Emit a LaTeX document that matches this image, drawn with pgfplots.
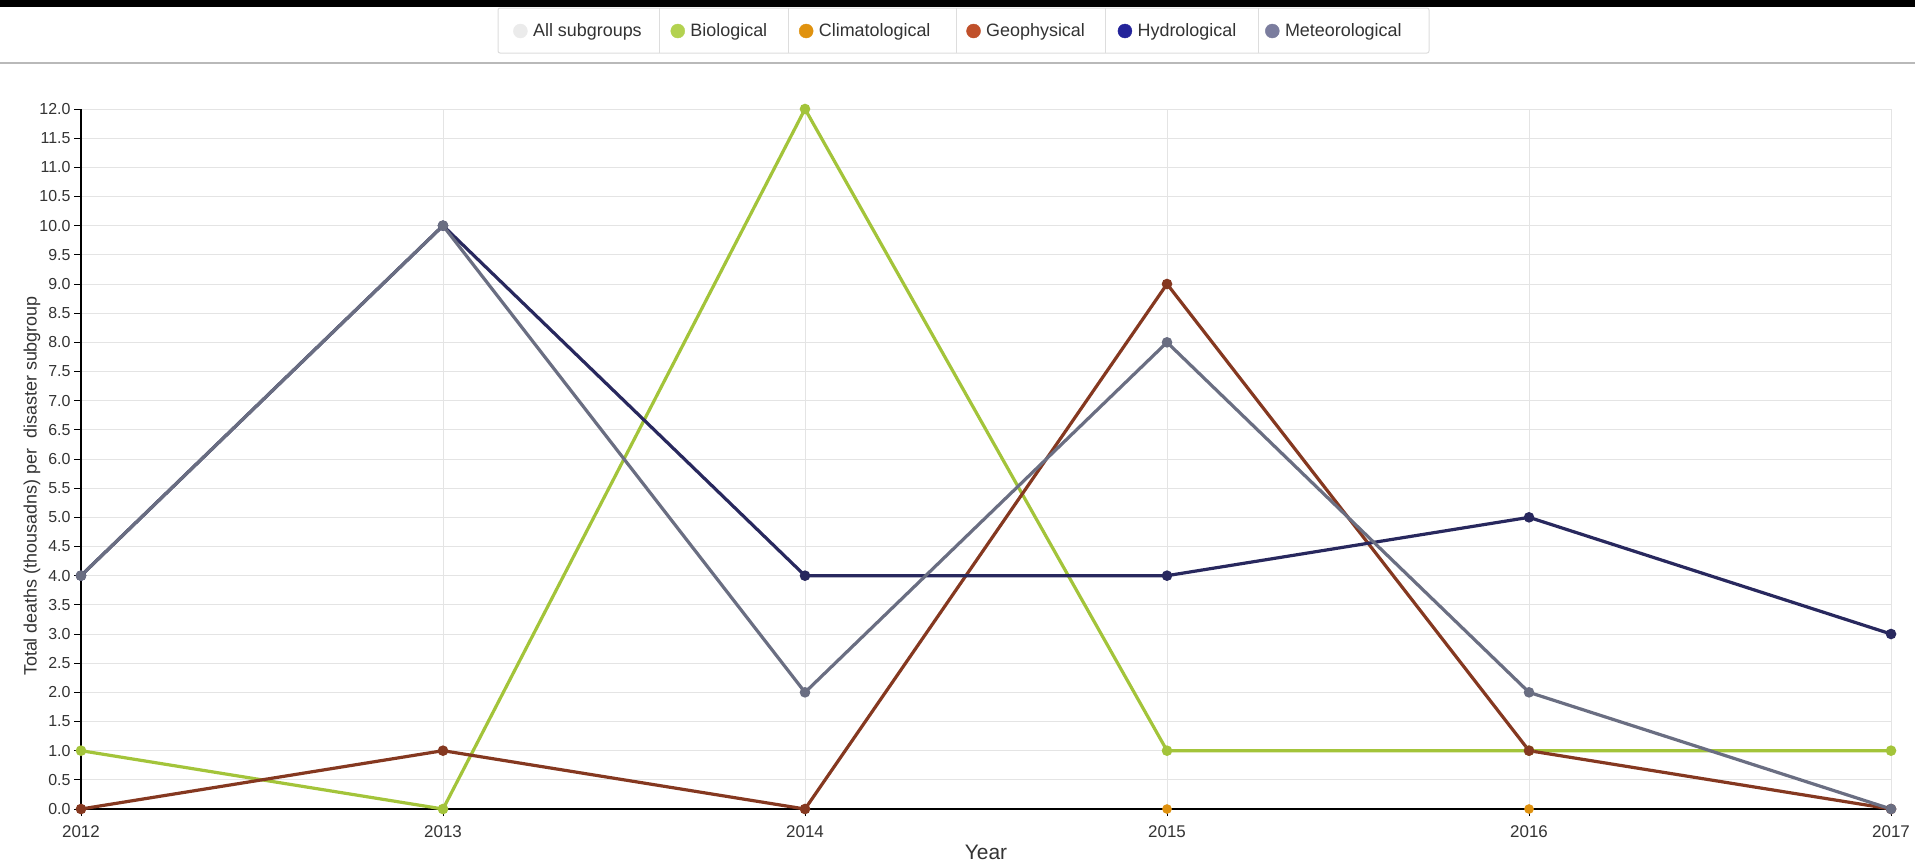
\documentclass[border=0pt]{standalone}
\usepackage{pgfplots}
\pgfplotsset{compat=1.18}
\usepackage{fontspec}
\setmainfont{Liberation Sans}
\definecolor{bio}{HTML}{A3C43A}
\definecolor{cli}{HTML}{E0920F}
\definecolor{geo}{HTML}{853820}
\definecolor{hyd}{HTML}{28285E}
\definecolor{met}{HTML}{6A6E82}
\definecolor{bioL}{HTML}{B3D250}
\definecolor{cliL}{HTML}{E0920F}
\definecolor{geoL}{HTML}{C0502A}
\definecolor{hydL}{HTML}{23239A}
\definecolor{metL}{HTML}{7B7D9E}
\definecolor{allL}{HTML}{EBEBEB}
\definecolor{txt}{HTML}{333333}
\definecolor{gridc}{HTML}{E4E4E4}
\definecolor{sepc}{HTML}{DDDDDD}
\newcommand{\ent}[2]{\makebox[#1][l]{\vphantom{Mgl()}#2}}
\begin{document}
\begin{tikzpicture}
\path[use as bounding box] (0bp,0bp) rectangle (1915bp,-865bp);
\fill[white] (0bp,0bp) rectangle (1915bp,-865bp);
\fill[black] (0bp,0bp) rectangle (1915bp,-7bp);
\draw[gray!55, line width=1.5bp] (0bp,-63bp) -- (1915bp,-63bp);
\draw[sepc, fill=white, line width=1bp, rounded corners=2bp] (498bp,-8bp) rectangle (1429bp,-53bp);
\foreach \s in {659,788,956,1105,1258} {\draw[sepc, line width=1bp] (\s bp,-8bp) -- (\s bp,-53bp);}
\begin{axis}[
  at={(81bp,-809bp)}, anchor=south west,
  scale only axis, width=1810bp, height=700bp,
  xmin=2012, xmax=2017, ymin=0, ymax=12,
  xtick={2012,2013,2014,2015,2016,2017},
  ytick={0,0.5,1,1.5,2,2.5,3,3.5,4,4.5,5,5.5,6,6.5,7,7.5,8,8.5,9,9.5,10,10.5,11,11.5,12},
  grid=major, grid style={color=gridc, line width=1bp},
  axis x line*=bottom, axis y line*=left,
  axis line style={-, black, line width=1.8bp},
  tick align=outside, major tick length=7bp,
  tick style={black, line width=1bp},
  /pgf/number format/assume math mode=true,
  x tick label style={font=\fontsize{17}{20}\selectfont, text=txt, /pgf/number format/1000 sep={}, yshift=-6bp},
  y tick label style={font=\fontsize{16}{19}\selectfont, text=txt, /pgf/number format/fixed, /pgf/number format/fixed zerofill, /pgf/number format/precision=1},
  xlabel={Year},
  xlabel style={font=\fontsize{21}{24}\selectfont, text=txt, at={(axis description cs:0.5,0)}, anchor=center, yshift=-43bp},
  ylabel={Total deaths (thousadns) per\ \ disaster subgroup},
  ylabel style={font=\fontsize{18}{21}\selectfont, text=txt, at={(axis description cs:-0.0271,0.4614)}, anchor=center},
  clip=false,
  legend image code/.code={\fill[#1] (0bp,0bp) circle (7bp);},
  legend columns=6,
  legend cell align=left,
  legend style={at={(axis description cs:0.22928,1.1114)}, anchor=west,
    draw=none, fill=none, inner xsep=17bp, inner ysep=0bp,
    font=\fontsize{18}{21}\selectfont, text=txt,
    /tikz/every odd column/.append style={column sep=3.5bp}},
]
\addlegendimage{allL}
\addlegendentry{\ent{135.5bp}{All subgroups}}
\addlegendimage{bioL}
\addlegendentry{\ent{106.5bp}{Biological}}
\addlegendimage{cliL}
\addlegendentry{\ent{145.5bp}{Climatological}}
\addlegendimage{geoL}
\addlegendentry{\ent{129.5bp}{Geophysical}}
\addlegendimage{hydL}
\addlegendentry{\ent{125.5bp}{Hydrological}}
\addlegendimage{metL}
\addlegendentry{\ent{125bp}{Meteorological}}

\addplot[cli, line width=2.5bp, mark=*, mark size=3.5bp, forget plot] coordinates {(2012,0)(2013,0)(2014,0)(2015,0)(2016,0)(2017,0)};
\draw[black, line width=2bp] (axis cs:2012,0) -- (axis cs:2017,0);
\addplot[bio, line width=3.2bp, mark=*, mark size=3.6bp, forget plot] coordinates {(2012,1)(2013,0)(2014,12)(2015,1)(2016,1)(2017,1)};
\addplot[geo, line width=3.2bp, mark=*, mark size=3.6bp, forget plot] coordinates {(2012,0)(2013,1)(2014,0)(2015,9)(2016,1)(2017,0)};
\addplot[hyd, line width=3.2bp, mark=*, mark size=3.6bp, forget plot] coordinates {(2012,4)(2013,10)(2014,4)(2015,4)(2016,5)(2017,3)};
\addplot[met, line width=3.2bp, mark=*, mark size=3.6bp, forget plot] coordinates {(2012,4)(2013,10)(2014,2)(2015,8)(2016,2)(2017,0)};
\end{axis}
\end{tikzpicture}
\end{document}
